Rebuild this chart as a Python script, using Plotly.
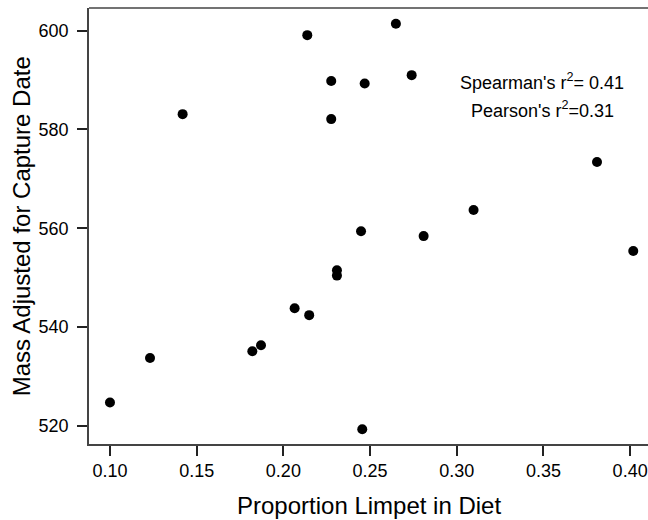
import plotly.graph_objects as go

# Data
proportion_limpet = [0.1000, 0.1231, 0.1419, 0.1821, 0.1871, 0.2065, 0.2138, 0.2149,
                     0.2276, 0.2276, 0.2309, 0.2309, 0.2448, 0.2455, 0.2469, 0.2649,
                     0.2740, 0.2809, 0.3097, 0.3809, 0.4018]
mass_adjusted = [524.7, 533.7, 583.1, 535.1, 536.3, 543.8, 599.1, 542.4,
                 589.8, 582.1, 551.5, 550.4, 559.4, 519.3, 589.3, 601.4,
                 591.0, 558.4, 563.7, 573.4, 555.4]

x_ticks = [0.10, 0.15, 0.20, 0.25, 0.30, 0.35, 0.40]
x_tick_labels = ["0.10", "0.15", "0.20", "0.25", "0.30", "0.35", "0.40"]
y_ticks = [520, 540, 560, 580, 600]
y_tick_labels = ["520", "540", "560", "580", "600"]

stats_lines = ["Spearman's r<sup>2</sup>= 0.41", "Pearson's r<sup>2</sup>=0.31"]
stats_y = [589.7, 584.1]

x_title = "Proportion Limpet in Diet"
y_title = "Mass Adjusted for Capture Date"

FONT = "Liberation Sans, Arial, sans-serif"

fig = go.Figure()
fig.add_trace(go.Scatter(
    x=proportion_limpet, y=mass_adjusted, mode="markers",
    marker=dict(color="black", size=10, line=dict(width=0)),
    showlegend=False, hoverinfo="x+y",
))

for txt, yy in zip(stats_lines, stats_y):
    fig.add_annotation(x=0.3494, y=yy, xref="x", yref="y", text=txt,
                       showarrow=False, xanchor="center", yanchor="middle",
                       font=dict(family=FONT, size=18, color="black"))

# axis titles placed as annotations for exact positioning
fig.add_annotation(x=0.5, y=-0.14, xref="paper", yref="paper", text=x_title,
                   showarrow=False, xanchor="center", yanchor="middle",
                   font=dict(family=FONT, size=24, color="black"))
fig.add_annotation(x=-0.121, y=0.5, xref="paper", yref="paper", text=y_title,
                   showarrow=False, xanchor="center", yanchor="middle", textangle=-90,
                   font=dict(family=FONT, size=24, color="black"))

# top border line (the right border lies outside the cropped image)
fig.add_shape(type="line", xref="paper", yref="paper", x0=0, x1=1, y0=1, y1=1,
              line=dict(color="#444444", width=1.5))

fig.update_layout(
    width=648, height=520,
    margin=dict(l=89, r=0, t=8, b=76),
    paper_bgcolor="white", plot_bgcolor="white",
    font=dict(family=FONT, color="black"),
    xaxis=dict(
        range=[0.0879, 0.4103], tickmode="array", tickvals=x_ticks, ticktext=x_tick_labels,
        showgrid=False, zeroline=False, showline=True, linecolor="#444444", linewidth=1.5,
        ticks="outside", ticklen=10, tickwidth=1.5, tickcolor="#222222",
        tickfont=dict(size=18, color="black", family=FONT), automargin=False,
    ),
    yaxis=dict(
        range=[516.3, 604.6], tickmode="array", tickvals=y_ticks, ticktext=y_tick_labels,
        showgrid=False, zeroline=False, showline=True, linecolor="#444444", linewidth=1.5,
        ticks="outside", ticklen=10, tickwidth=1.5, tickcolor="#222222",
        tickfont=dict(size=18, color="black", family=FONT), automargin=False,
        ticklabelstandoff=5,
    ),
)

fig.write_html("out.html", config={"displayModeBar": False},
               post_script="document.body.style.margin='0';")
